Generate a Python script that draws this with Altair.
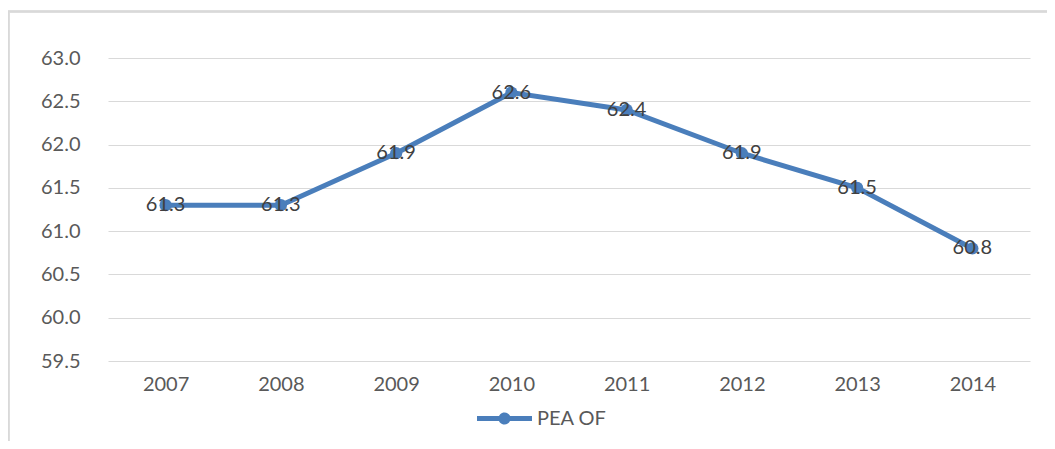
import altair as alt
import pandas as pd

years = ["2007", "2008", "2009", "2010", "2011", "2012", "2013", "2014"]
values = [61.3, 61.3, 61.9, 62.6, 62.4, 61.9, 61.5, 60.8]
series = ["PEA OF"] * len(years)
y_ticks = [59.5, 60.0, 60.5, 61.0, 61.5, 62.0, 62.5, 63.0]

df = pd.DataFrame({"year": years, "value": values, "series": series})

BLUE = "#4A7EBB"
FONT = "Lato"
FS = 20

legend_path = (
    "M-1,-0.09 L1,-0.09 L1,0.09 L-1,0.09 Z "
    "M0.22,0 A0.22,0.22 0 1,1 -0.22,0 A0.22,0.22 0 1,1 0.22,0 Z"
)

x_enc = alt.X(
    "year:N",
    sort=years,
    scale=alt.Scale(paddingInner=0, paddingOuter=0),
    axis=alt.Axis(
        title=None, labelAngle=0, domain=False, ticks=False, grid=False,
        labelFontSize=FS, labelColor="#595959", labelFont=FONT, labelPadding=13,
    ),
)
y_enc = alt.Y(
    "value:Q",
    scale=alt.Scale(domain=[59.5, 63.0], nice=False, zero=False),
    axis=alt.Axis(
        title=None, values=y_ticks, format=".1f", domain=False, ticks=False,
        grid=True, gridColor="#d9d9d9", gridWidth=1,
        labelFontSize=FS, labelColor="#595959", labelFont=FONT, labelPadding=28,
    ),
)

base = alt.Chart(df)

line = base.mark_line(strokeWidth=5, point=alt.OverlayMarkDef(size=150, filled=True, color=BLUE, opacity=1)).encode(
    x=x_enc,
    y=y_enc,
    color=alt.Color(
        "series:N",
        scale=alt.Scale(range=[BLUE]),
        legend=alt.Legend(
            title=None, orient="none", legendX=369, legendY=333,
            symbolType=legend_path, symbolSize=3025, symbolFillColor=BLUE,
            symbolStrokeWidth=0, symbolOpacity=1,
            labelFontSize=FS, labelColor="#595959", labelFont=FONT,
            labelOffset=5, padding=0,
        ),
    ),
)

labels = base.mark_text(fontSize=FS, color="#404040", font=FONT, align="center", baseline="middle").encode(
    x=alt.X("year:N", sort=years),
    y=alt.Y("value:Q"),
    text=alt.Text("value:Q", format=".1f"),
)

border_left = alt.Chart(df).mark_rule(color="#d9d9d9", strokeWidth=1.5).encode(
    x=alt.value(-99.5), y=alt.value(-47), y2=alt.value(400)
)
border_top = alt.Chart(df).mark_rule(color="#d9d9d9", strokeWidth=1.5).encode(
    x=alt.value(-100), x2=alt.value(960), y=alt.value(-46.5)
)

chart = alt.layer(border_left, border_top, line, labels).properties(
    width=922,
    height=303,
    autosize=alt.AutoSizeParams(type="none"),
    padding={"left": 100, "top": 50, "right": 17, "bottom": 80},
).configure(font=FONT, background="white").configure_view(stroke=None, strokeWidth=0)

chart.save("out.html", embed_options={"renderer": "svg", "actions": False})
